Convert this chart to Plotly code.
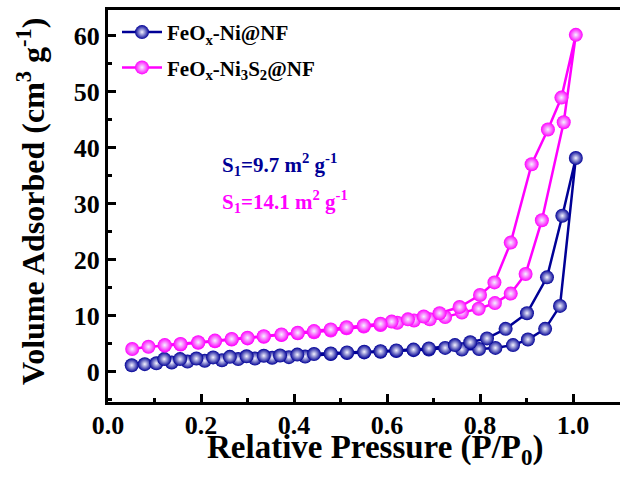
import plotly.graph_objects as go

# FeOx-Ni@NF (adsorption then desorption branch)
ni_ads_p = [0.051, 0.079, 0.104, 0.137, 0.171, 0.208, 0.245, 0.280, 0.316, 0.353, 0.389, 0.424,
            0.479, 0.514, 0.551, 0.586, 0.620, 0.657, 0.690, 0.725, 0.761, 0.798, 0.833, 0.871,
            0.903, 0.940, 0.972, 1.006]
ni_ads_v = [1.2, 1.4, 1.55, 1.7, 1.85, 2.0, 2.1, 2.3, 2.4, 2.55, 2.65, 2.75,
            3.2, 3.4, 3.5, 3.6, 3.75, 3.9, 4.0, 4.3, 4.0, 4.1, 4.3, 4.8,
            5.8, 7.7, 11.8, 38.2]
ni_des_p = [0.977, 0.944, 0.901, 0.855, 0.815, 0.779, 0.746, 0.690, 0.657, 0.620, 0.586, 0.551,
            0.514, 0.479, 0.443, 0.407, 0.370, 0.335, 0.298, 0.262, 0.226, 0.190, 0.155, 0.121]
ni_des_v = [27.9, 16.9, 10.5, 7.7, 6.0, 5.3, 4.8, 4.2, 4.0, 3.85, 3.7, 3.6,
            3.5, 3.3, 3.2, 3.1, 2.95, 2.9, 2.8, 2.7, 2.6, 2.4, 2.3, 2.3]

# FeOx-Ni3S2@NF
ns_ads_p = [0.052, 0.087, 0.122, 0.156, 0.194, 0.230, 0.266, 0.300, 0.335, 0.373, 0.408, 0.443,
            0.479, 0.513, 0.550, 0.586, 0.622, 0.658, 0.692, 0.725, 0.761, 0.797, 0.832, 0.866,
            0.898, 0.933, 0.980, 1.006]
ns_ads_v = [4.1, 4.5, 4.7, 4.9, 5.2, 5.5, 5.8, 6.0, 6.3, 6.6, 6.9, 7.1,
            7.4, 7.8, 8.1, 8.4, 8.8, 9.2, 9.4, 9.8, 10.6, 11.3, 12.3, 14.0,
            17.5, 27.1, 44.6, 60.2]
ns_des_p = [0.975, 0.946, 0.911, 0.866, 0.831, 0.800, 0.756, 0.713, 0.679, 0.645, 0.610, 0.586,
            0.550, 0.513, 0.479, 0.443, 0.408, 0.373, 0.335, 0.300, 0.266, 0.230, 0.194, 0.156, 0.122]
ns_des_v = [49.0, 43.3, 37.1, 23.1, 16.0, 13.75, 11.6, 10.5, 9.9, 9.4, 9.0, 8.6,
            8.3, 8.0, 7.6, 7.3, 7.0, 6.7, 6.4, 6.1, 5.9, 5.6, 5.3, 5.0, 4.8]

x_ticks = [0.0, 0.2, 0.4, 0.6, 0.8, 1.0]
x_tick_text = ["0.0", "0.2", "0.4", "0.6", "0.8", "1.0"]
y_ticks = [0, 10, 20, 30, 40, 50, 60]

BLUE = "#000096"
MAG = "#FF00FF"
FONT = "Liberation Serif"

fig = go.Figure()


def add_series(p, v, color, name, group):
    fig.add_trace(go.Scatter(
        x=p, y=v, mode="lines+markers", name=name, legendgroup=group,
        line=dict(color=color, width=2.5),
        marker=dict(size=14, color=color, line=dict(width=0),
                    gradient=dict(type="radial", color="#f4f4ff")),
    ))


add_series(ni_ads_p + ni_des_p, ni_ads_v + ni_des_v, BLUE, "<b>FeO<sub>x</sub>-Ni@NF</b>", "a")
add_series(ns_ads_p + ns_des_p, ns_ads_v + ns_des_v, MAG,
           "<b>FeO<sub>x</sub>-Ni<sub>3</sub>S<sub>2</sub>@NF</b>", "b")

axis_common = dict(
    showline=True, linecolor="black", linewidth=3, ticks="inside", tickwidth=2.5,
    ticklen=8, tickcolor="black", showgrid=False, zeroline=False,
    tickfont=dict(family=FONT, size=26, color="black", weight="bold"),
)

fig.update_layout(
    width=620, height=479,
    margin=dict(l=108, r=0, t=10, b=77),
    paper_bgcolor="white", plot_bgcolor="white",
    font=dict(family=FONT, color="black"),
    showlegend=True,
    legend=dict(x=9 / 512, y=0.995, xanchor="left", yanchor="top", bgcolor="rgba(0,0,0,0)",
                font=dict(family=FONT, size=21, color="black"), itemwidth=40,
                traceorder="grouped", tracegroupgap=5),
    xaxis=dict(range=[0, 1.101], tickvals=x_ticks, ticktext=x_tick_text, mirror=True,
               minor=dict(dtick=0.1, tick0=0, ticks="inside", ticklen=4, tickwidth=2.5,
                          tickcolor="black"),
               ticklabelstandoff=-2, **axis_common),
    yaxis=dict(range=[-5.36, 64.64], tickvals=y_ticks, mirror=False,
               minor=dict(dtick=5, tick0=0, ticks="inside", ticklen=4, tickwidth=2.5,
                          tickcolor="black"),
               ticklabelstandoff=0, **axis_common),
)

fig.add_annotation(text="<b>Relative Pressure (P/P<sub>0</sub>)</b>", xref="paper", yref="paper",
                   x=(375 - 108) / 512, y=-(449 - 402) / 392, xanchor="center", yanchor="middle",
                   showarrow=False, font=dict(family=FONT, size=33, color="black"))
fig.add_annotation(text="<b>Volume Adsorbed (cm<sup>3</sup> g<sup>-1</sup>)</b>", xref="paper", yref="paper",
                   x=-(108 - 31) / 512, y=(402 - 202) / 392, xanchor="center", yanchor="middle",
                   textangle=-90, showarrow=False, font=dict(family=FONT, size=32, color="black"))
fig.add_annotation(text="<b>S<sub>1</sub>=9.7 m<sup>2</sup> g<sup>-1</sup></b>", xref="paper", yref="paper",
                   x=(220 - 108) / 512, y=(402 - 164) / 392, xanchor="left", yanchor="middle",
                   showarrow=False, font=dict(family=FONT, size=21, color=BLUE))
fig.add_annotation(text="<b>S<sub>1</sub>=14.1 m<sup>2</sup> g<sup>-1</sup></b>", xref="paper", yref="paper",
                   x=(220 - 108) / 512, y=(402 - 201) / 392, xanchor="left", yanchor="middle",
                   showarrow=False, font=dict(family=FONT, size=21, color=MAG))

fig.write_html("out.html", config={"displayModeBar": False},
               post_script="document.body.style.margin='0';document.body.style.overflow='hidden';")
